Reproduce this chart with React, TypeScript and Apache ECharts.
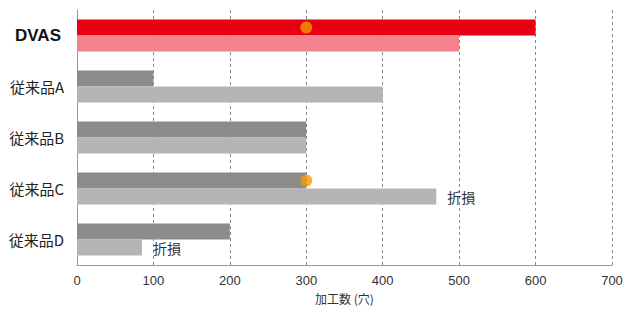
import React, { useEffect, useRef } from "react";
import * as echarts from "echarts";

const categories = ["DVAS", "従来品A", "従来品B", "従来品C", "従来品D"];
const upperValues = [600, 100, 300, 300, 200];
const lowerValues = [500, 400, 300, 470, 85];
const upperColors = ["#e60012", "#8c8c8c", "#8c8c8c", "#8c8c8c", "#8c8c8c"];
const lowerColors = ["#f2838e", "#b5b5b5", "#b5b5b5", "#b5b5b5", "#b5b5b5"];
const endLabels = ["", "", "", "折損", "折損"];
const dotPoints: [number, string][] = [
  [300, "DVAS"],
  [300, "従来品C"],
];
const xTicks = [0, 100, 200, 300, 400, 500, 600, 700];
const axisName = "加工数 (穴)";

const FONT = '"Noto Sans CJK JP", "Noto Sans", sans-serif';

export default function App() {
  const ref = useRef<HTMLDivElement>(null);
  useEffect(() => {
    if (!ref.current) return;
    const chart = echarts.init(ref.current, undefined, { renderer: "svg" });
    chart.setOption({
      animation: false,
      backgroundColor: "#ffffff",
      textStyle: { fontFamily: FONT },
      grid: { left: 77, right: 17, top: 10, bottom: 47, containLabel: false },
      xAxis: {
        type: "value",
        min: xTicks[0],
        max: xTicks[xTicks.length - 1],
        interval: 100,
        name: axisName,
        nameLocation: "middle",
        nameGap: 27,
        nameTextStyle: { fontSize: 12, color: "#333", fontFamily: FONT },
        axisLine: { show: true, lineStyle: { color: "#999", width: 1 } },
        axisTick: { show: false },
        axisLabel: { fontSize: 13, color: "#333", margin: 9, fontFamily: "Liberation Sans, Arial, sans-serif" },
        splitLine: { show: true, lineStyle: { color: "#888", type: [3, 3], width: 1 } },
      },
      yAxis: {
        type: "category",
        data: categories,
        inverse: true,
        axisLine: { show: true, lineStyle: { color: "#999", width: 1 } },
        axisTick: { show: false },
        axisLabel: {
          margin: 13,
          fontSize: 15,
          color: "#222",
          fontFamily: FONT,
          formatter: (v: string) => (v === "DVAS" ? `{b|${v}}` : v),
          rich: {
            b: {
              fontSize: 17,
              fontWeight: 900,
              color: "#111",
              fontFamily: "Liberation Sans, Arial, sans-serif",
              padding: [0, 3, 0, 0],
            },
          },
        },
      },
      series: [
        {
          type: "bar",
          barWidth: 16,
          barGap: "0%",
          data: upperValues.map((v, i) => ({ value: v, itemStyle: { color: upperColors[i] } })),
        },
        {
          type: "bar",
          barWidth: 16,
          barGap: "0%",
          data: lowerValues.map((v, i) => ({
            value: v,
            itemStyle: { color: lowerColors[i] },
            label: endLabels[i]
              ? {
                  show: true,
                  position: "right",
                  distance: 11,
                  formatter: endLabels[i],
                  fontSize: 14,
                  color: "#333",
                  fontFamily: FONT,
                }
              : { show: false },
          })),
        },
        {
          type: "scatter",
          symbol: "circle",
          symbolSize: 12,
          symbolOffset: [0, -8],
          itemStyle: { color: "#f39800" },
          z: 5,
          data: dotPoints.map((p) => [p[0], p[1]]),
        },
      ],
    });
    return () => chart.dispose();
  }, []);
  return (
    <div
      ref={ref}
      style={{ position: "fixed", left: 0, top: 0, width: 629, height: 312 }}
    />
  );
}
